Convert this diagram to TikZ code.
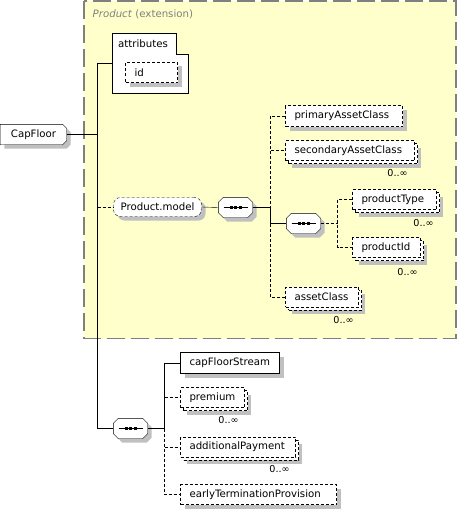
\documentclass[tikz,border=0pt]{standalone}
\usepackage{fontspec}
\setmainfont{DejaVu Sans}
\usetikzlibrary{shadows}
\definecolor{extfill}{RGB}{255,255,204}
\definecolor{extline}{RGB}{128,128,128}
\definecolor{shd}{RGB}{192,192,192}
\pgfdeclarelayer{back}
\pgfdeclarelayer{outline}
\pgfsetlayers{back,outline,main}
\newcommand\seqshape[1]{%
  \begin{pgfonlayer}{outline}
  \draw[draw=black,fill=white,shad] ([xshift=5pt]#1.north west) -- ([xshift=-5pt]#1.north east)
    -- ([yshift=-5pt]#1.north east) -- ([yshift=5pt]#1.south east)
    -- ([xshift=-5pt]#1.south east) -- ([xshift=5pt]#1.south west)
    -- ([yshift=5pt]#1.south west) -- ([yshift=-5pt]#1.north west) -- cycle;
  \end{pgfonlayer}
  \draw ([xshift=-12pt]#1.center) -- ([xshift=12pt]#1.center);
  \foreach \d in {-4.5,0,4.5}
    \fill ([xshift=\d pt]#1.center) +(-1.5,-1.5) rectangle +(1.5,1.5);
}
\begin{document}
\begin{tikzpicture}[x=1pt,y=-1pt,
  line width=1pt,
  font=\fontsize{10.2}{12}\selectfont,
  dsh/.style={dash pattern=on 3pt off 2pt},
  shad/.style={drop shadow={shadow xshift=4pt,shadow yshift=-4pt,opacity=1,fill=shd}},
  mshad/.style={drop shadow={shadow xshift=6pt,shadow yshift=-7pt,opacity=1,fill=shd},
                copy shadow={shadow xshift=3pt,shadow yshift=-3pt}},
  base/.style={draw=black,fill=white,rectangle,inner xsep=9pt,inner ysep=0pt,minimum height=20pt,align=left},
  single/.style={base,shad},
  multi/.style={base,dsh,mshad},
  seq/.style={rectangle,minimum width=34pt,minimum height=20pt,inner sep=0pt},
  occ/.style={inner sep=0pt,font=\fontsize{9.6}{11}\selectfont},
]
\useasboundingbox (0,0) rectangle (457,511);
\begin{scope}[shift={(0.5,0.5)}]

% extension region
\begin{pgfonlayer}{back}
\draw[extline,line width=1.5pt,dash pattern=on 18pt off 6pt,fill=extfill] (83.5,0.5) rectangle (455.5,338);
\end{pgfonlayer}
\node[anchor=west,text=extline,inner sep=0pt] (extlbl) at (92,14) {\textit{Product} (extension)};

% root
\node[rectangle,minimum width=66pt,minimum height=20pt,inner sep=0pt] (cf) at (33,134) {CapFloor};
\begin{pgfonlayer}{outline}
\draw[draw=black,fill=white,shad] (cf.north west) -- ([xshift=-4pt]cf.north east) -- ([yshift=-4pt]cf.north east)
  -- ([yshift=4pt]cf.south east) -- ([xshift=-4pt]cf.south east) -- (cf.south west) -- cycle;
\end{pgfonlayer}

% attributes
\node[minimum width=75pt,minimum height=59pt,inner sep=0pt] (attr) at (149.5,62.5) {};
\begin{pgfonlayer}{outline}
\draw[draw=black,fill=white] (attr.north west) -- ([xshift=-12pt]attr.north east) -- ([xshift=-12pt,yshift=-21pt]attr.north east)
  -- ([yshift=-21pt]attr.north east) -- (attr.south east) -- (attr.south west) -- cycle;
\end{pgfonlayer}
\node[inner sep=0pt] (attrlbl) at (142.5,43.5) {attributes};
\node[single,dsh,text width=34pt] (id) at (151,72) {id};

% Product.model group
\node[draw=black,fill=white,dsh,rounded corners=7pt,minimum width=88pt,minimum height=19pt,inner sep=0pt,shad] (pm) at (157,206.5) {Product.model};
\node[seq] (seq1) at (235,207) {};
\seqshape{seq1}
\node[single,dsh,text width=99pt,minimum height=21pt] (pac) at (343.5,115.5) {primaryAssetClass};
\node[multi,text width=111pt] (sac) at (349.5,150) {secondaryAssetClass};
\node[seq] (seq2) at (303,223) {};
\seqshape{seq2}
\node[multi,text width=66pt] (pt) at (394,199) {productType};
\node[multi,text width=50pt] (pid) at (386,247) {productId};
\node[multi,text width=55pt] (ac) at (321.5,296.5) {assetClass};

% lower sequence
\node[seq] (seq3) at (130,428) {};
\seqshape{seq3}
\node[single,text width=81pt,minimum height=21pt] (cfs) at (229.5,362.5) {capFloorStream};
\node[multi,text width=46pt] (prem) at (212,397) {premium};
\node[multi,text width=97pt] (ap) at (237.5,446.5) {additionalPayment};
\node[single,dsh,text width=138pt] (etp) at (258,494) {earlyTerminationProvision};

% occurrence labels
\node[occ] (o1) at (397,173) {0..∞};
\node[occ] (o2) at (423,223) {0..∞};
\node[occ] (o3) at (407,272) {0..∞};
\node[occ] (o4) at (343,320) {0..∞};
\node[occ] (o5) at (228,420) {0..∞};
\node[occ] (o6) at (279,469) {0..∞};

% connectors
\coordinate (bus1) at (97,134);
\coordinate (bus2) at (270,207);
\coordinate (bus3) at (337,223);
\coordinate (bus4) at (164,428);

\draw (cf.east) -- (bus1);
\draw (attr.west) -- (attr.west -| bus1) -- (seq3.west -| bus1) -- (seq3.west);
\draw[dsh] (pm.west -| bus1) -- (pm.west);

\draw (pm.east) -- (seq1.west);
\draw (seq1.east) -- (bus2);
\draw[dsh] (pac.west) -- (pac.west -| bus2) -- (bus2);
\draw[dsh] (sac.west -| bus2) -- (sac.west);
\draw (bus2) -- (seq2.west -| bus2) -- (seq2.west);
\draw[dsh] (seq2.west -| bus2) -- (ac.west -| bus2) -- (ac.west);

\draw[dsh] (seq2.east) -- (bus3);
\draw[dsh] (pt.west) -- (pt.west -| bus3) -- (pid.west -| bus3) -- (pid.west);

\draw (seq3.east) -- (bus4);
\draw (bus4) -- (cfs.west -| bus4) -- (cfs.west);
\draw[dsh] (bus4) -- (etp.west -| bus4) -- (etp.west);
\draw[dsh] (prem.west -| bus4) -- (prem.west);
\draw[dsh] (ap.west -| bus4) -- (ap.west);
\end{scope}
\end{tikzpicture}
\end{document}
